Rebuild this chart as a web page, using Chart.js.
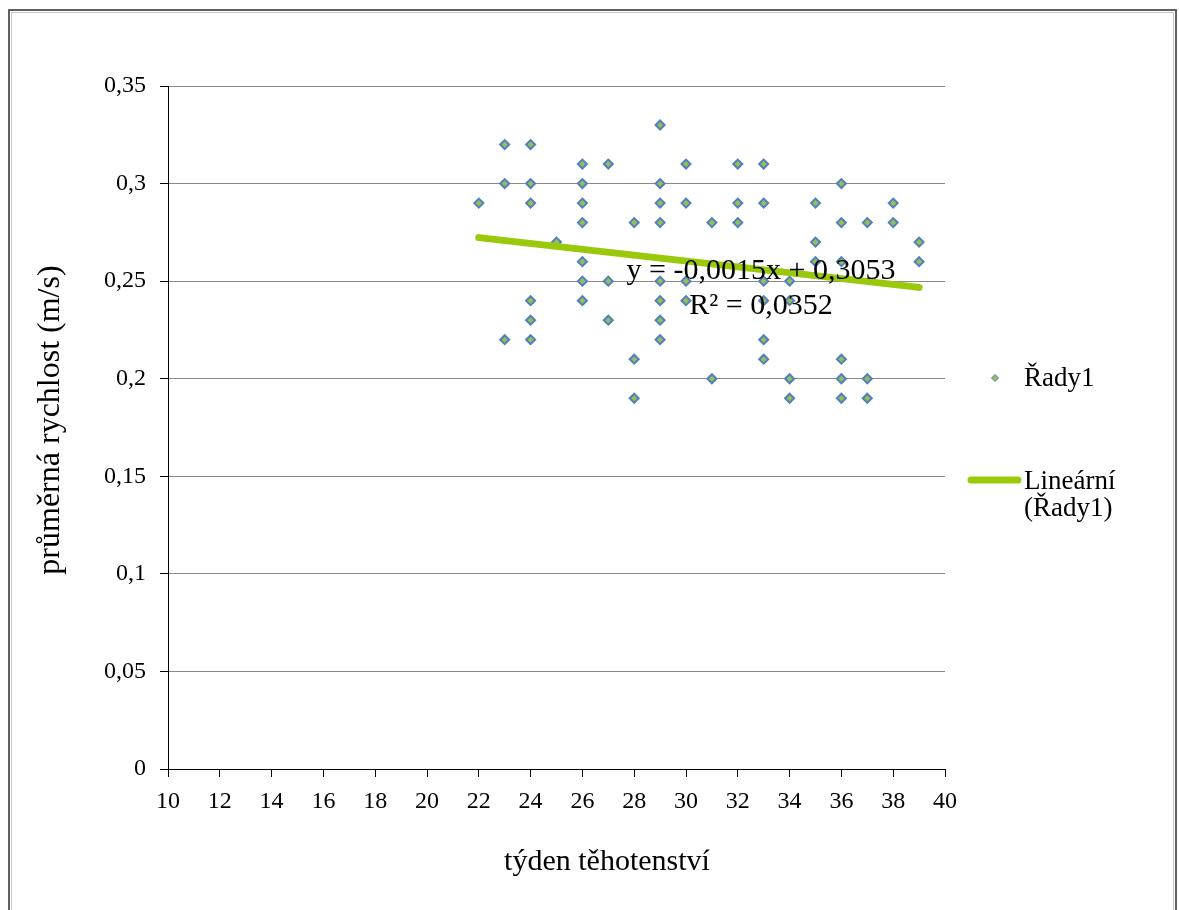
<!DOCTYPE html>
<html>
<head>
<meta charset="utf-8">
<script src="https://cdn.jsdelivr.net/npm/chart.js@4.4.1/dist/chart.umd.min.js"></script>
<style>
  html, body { margin: 0; padding: 0; background: #fff; }
  #wrap { position: absolute; left: 0; top: 0; width: 1179px; height: 910px; }
</style>
</head>
<body>
<div id="wrap"><canvas id="c" width="1179" height="910"></canvas></div>
<script>
// ---- data ----
const weeks = [
  22,
  23, 23, 23,
  24, 24, 24, 24, 24, 24,
  25,
  26, 26, 26, 26, 26, 26, 26,
  27, 27, 27,
  28, 28, 28,
  29, 29, 29, 29, 29, 29, 29, 29,
  30, 30, 30, 30,
  31, 31,
  32, 32, 32,
  33, 33, 33, 33, 33, 33,
  34, 34, 34, 34,
  35, 35, 35,
  36, 36, 36, 36, 36, 36,
  37, 37, 37,
  38, 38,
  39, 39
];
const speeds = [
  0.29,
  0.32, 0.30, 0.22,
  0.32, 0.30, 0.29, 0.24, 0.23, 0.22,
  0.27,
  0.31, 0.30, 0.29, 0.28, 0.26, 0.25, 0.24,
  0.31, 0.25, 0.23,
  0.28, 0.21, 0.19,
  0.33, 0.30, 0.29, 0.28, 0.25, 0.24, 0.23, 0.22,
  0.31, 0.29, 0.25, 0.24,
  0.28, 0.20,
  0.31, 0.29, 0.28,
  0.31, 0.29, 0.25, 0.24, 0.22, 0.21,
  0.25, 0.24, 0.20, 0.19,
  0.29, 0.27, 0.26,
  0.30, 0.28, 0.26, 0.21, 0.20, 0.19,
  0.28, 0.20, 0.19,
  0.29, 0.28,
  0.27, 0.26
];
const trendWeeks = [22, 39];
const trendSpeeds = [0.2723, 0.2468];
const yTickLabels = ['0', '0,05', '0,1', '0,15', '0,2', '0,25', '0,3', '0,35'];
const xTickLabels = ['10', '12', '14', '16', '18', '20', '22', '24', '26', '28', '30', '32', '34', '36', '38', '40'];
const seriesName = 'Řady1';
const trendNameLines = ['Lineární', '(Řady1)'];
const equationLines = ['y = -0,0015x + 0,3053', 'R² = 0,0352'];
const xTitle = 'týden těhotenství';
const yTitle = 'průměrná rychlost (m/s)';

// ---- chart ----
const SERIF = '"Liberation Serif", "Times New Roman", serif';
Chart.defaults.font.family = SERIF;
Chart.defaults.color = '#000';

const scatterPts = weeks.map((w, i) => ({ x: w, y: speeds[i] }));
const trendPts = trendWeeks.map((w, i) => ({ x: w, y: trendSpeeds[i] }));

const decor = {
  id: 'decor',
  beforeDraw(chart) {
    const ctx = chart.ctx;
    ctx.save();
    ctx.fillStyle = '#fff';
    ctx.fillRect(0, 0, chart.width, chart.height);
    ctx.strokeStyle = '#606060';
    ctx.lineWidth = 2;
    ctx.strokeRect(9, 10, 1167, 920);
    ctx.strokeStyle = '#c8c8c8';
    ctx.lineWidth = 1;
    ctx.strokeRect(11.5, 12.5, 1162, 920);
    ctx.restore();
  },
  afterDatasetsDraw(chart) {
    const ctx = chart.ctx;
    ctx.save();
    ctx.fillStyle = '#000';
    ctx.font = '30px ' + SERIF;
    ctx.textAlign = 'center';
    ctx.textBaseline = 'alphabetic';
    ctx.fillText(equationLines[0], 761, 279);
    ctx.fillText(equationLines[1], 761, 314);
    ctx.restore();
  },
  afterDraw(chart) {
    const ctx = chart.ctx;
    const sc = chart.data.datasets[1];
    const tr = chart.data.datasets[0];
    ctx.save();
    ctx.fillStyle = '#000';
    // axis titles
    ctx.textAlign = 'center';
    ctx.textBaseline = 'alphabetic';
    ctx.font = '30px ' + SERIF;
    ctx.fillText(xTitle, 607, 870);
    ctx.save();
    ctx.font = '32px ' + SERIF;
    ctx.translate(59, 420);
    ctx.rotate(-Math.PI / 2);
    ctx.fillText(yTitle, 0, 0);
    ctx.restore();
    // legend
    ctx.font = '27px ' + SERIF;
    ctx.textAlign = 'left';
    ctx.fillText(seriesName, 1024, 386);
    ctx.fillText(trendNameLines[0], 1024, 489);
    ctx.fillText(trendNameLines[1], 1024, 516);
    // legend marker (diamond)
    ctx.beginPath();
    const mx = 995, my = 378, r = 3.5;
    ctx.moveTo(mx, my - r); ctx.lineTo(mx + r, my); ctx.lineTo(mx, my + r); ctx.lineTo(mx - r, my); ctx.closePath();
    ctx.fillStyle = sc.backgroundColor;
    ctx.fill();
    ctx.strokeStyle = sc.borderColor;
    ctx.lineWidth = 1;
    ctx.stroke();
    // legend trend line
    ctx.beginPath();
    ctx.moveTo(971, 480); ctx.lineTo(1018, 480);
    ctx.strokeStyle = tr.borderColor;
    ctx.lineWidth = tr.borderWidth;
    ctx.lineCap = 'round';
    ctx.stroke();
    ctx.restore();
  }
};

new Chart(document.getElementById('c'), {
  type: 'scatter',
  data: {
    datasets: [
      {
        label: 'Lineární (Řady1)',
        type: 'line',
        data: trendPts,
        showLine: true,
        borderColor: '#99c90a',
        borderWidth: 7,
        borderCapStyle: 'round',
        pointRadius: 0,
        fill: false,
        order: 0
      },
      {
        label: seriesName,
        data: scatterPts,
        pointStyle: 'rectRot',
        pointRadius: 4.5,
        backgroundColor: '#9bbb59',
        borderColor: '#4f81bd',
        borderWidth: 2,
        order: 1
      }
    ]
  },
  options: {
    responsive: false,
    animation: false,
    devicePixelRatio: 1,
    layout: { padding: { left: 0, top: 86, right: 234, bottom: 0 } },
    plugins: {
      legend: { display: false },
      tooltip: { enabled: false },
      title: { display: false }
    },
    scales: {
      x: {
        type: 'linear',
        min: 10, max: 40,
        afterFit(s) { s.height = 141; },
        ticks: {
          stepSize: 2,
          padding: 10,
          font: { size: 24 },
          color: '#000',
          maxRotation: 0,
          callback(v) { const i = Math.round((v - 10) / 2); return xTickLabels[i]; }
        },
        grid: { drawOnChartArea: false, drawTicks: true, tickLength: 8, tickColor: '#000', tickWidth: 1 },
        border: { display: true, color: '#000', width: 1 }
      },
      y: {
        type: 'linear',
        min: 0, max: 0.35,
        afterFit(s) { s.width = 168; },
        ticks: {
          stepSize: 0.05,
          padding: 14,
          font: { size: 24 },
          color: '#000',
          callback(v) { const i = Math.round(v / 0.05); return yTickLabels[i]; }
        },
        grid: { color: '#8a8a8a', lineWidth: 1, drawTicks: true, tickLength: 8, tickColor: '#000' },
        border: { display: true, color: '#000', width: 1 }
      }
    }
  },
  plugins: [decor]
});
</script>
</body>
</html>
